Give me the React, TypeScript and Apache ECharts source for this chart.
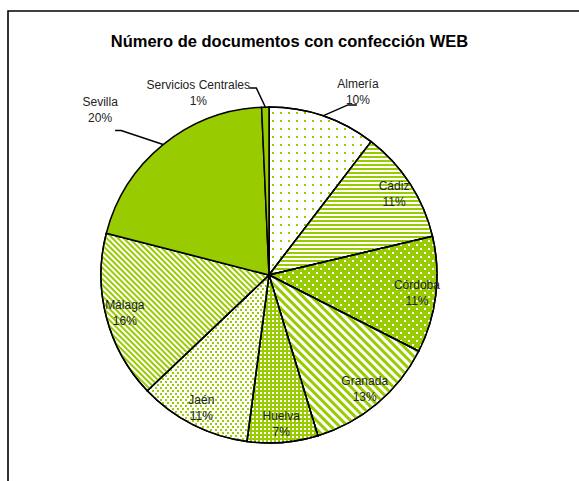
import React, { useEffect, useRef } from "react";
import * as echarts from "echarts";

const titleText = "Número de documentos con confección WEB";
const categories = ["Almería", "Cádiz", "Córdoba", "Granada", "Huelva", "Jaén", "Málaga", "Sevilla", "Servicios Centrales"];
const shares = [10.4, 10.9, 11.2, 12.8, 6.8, 10.8, 16.1, 20.3, 0.7];
const outsideLabelNames = ["Almería", "Sevilla", "Servicios Centrales"];

const GREEN = "#99CC00";

// fill styles (base colour + decal pattern) per category
const fills: Record<string, any> = {
  "Almería": { color: "#ffffff", decal: { symbol: "rect", color: GREEN, dashArrayX: [2, 6], dashArrayY: [2, 6], symbolSize: 1 } },
  "Cádiz": { color: "#ffffff", decal: { symbol: "rect", color: GREEN, dashArrayX: [1, 0], dashArrayY: [2, 2], symbolSize: 1 } },
  "Córdoba": { color: GREEN, decal: { symbol: "rect", color: "#ffffff", dashArrayX: [[1.5, 5.5], [0, 3.5, 1.5, 2]], dashArrayY: [1.5, 2], symbolSize: 1 } },
  "Granada": { color: "#ffffff", decal: { symbol: "rect", color: GREEN, dashArrayX: [1, 0], dashArrayY: [3, 3], rotation: Math.PI / 4, symbolSize: 1 } },
  "Huelva": { color: GREEN, decal: { symbol: "rect", color: "#ffffff", dashArrayX: [1.5, 1.5], dashArrayY: [1.5, 1.5], symbolSize: 1 } },
  "Jaén": { color: "#ffffff", decal: { symbol: "rect", color: GREEN, dashArrayX: [[1.5, 2.5], [0, 2, 1.5, 0.5]], dashArrayY: [1.5, 0.5], symbolSize: 1 } },
  "Málaga": { color: "#ffffff", decal: { symbol: "rect", color: GREEN, dashArrayX: [1, 0], dashArrayY: [1.5, 1.2], rotation: Math.PI / 4, symbolSize: 1 } },
  "Sevilla": { color: GREEN, decal: null },
  "Servicios Centrales": { color: GREEN, decal: null },
};

// leader-line geometry relative to the library's anchor point on the pie edge
const leader: Record<string, { mid: [number, number]; end: [number, number]; text: [number, number] }> = {
  "Almería": { mid: [25, -11], end: [34, -11], text: [35, -24] },
  "Sevilla": { mid: [-42, -14], end: [-48, -14], text: [-63, -35] },
  "Servicios Centrales": { mid: [-9, -19], end: [-16, -19], text: [-67, -14] },
};

const labelFmt = (p: any) => `${p.name}\n${Math.round(p.percent)}%`;

export default function App() {
  const ref = useRef<HTMLDivElement>(null);
  useEffect(() => {
    if (!ref.current) return;
    const chart = echarts.init(ref.current, undefined, { renderer: "svg" });
    const labelStyle = {
      color: "#222",
      fontFamily: "Liberation Sans",
      fontSize: 12,
      lineHeight: 16,
      align: "center",
    };
    const mainData = categories.map((name, i) => ({
      name,
      value: shares[i],
      itemStyle: { color: fills[name].color, decal: fills[name].decal || undefined },
      label: { show: outsideLabelNames.includes(name) },
      labelLine: { show: outsideLabelNames.includes(name) },
    }));
    const innerData = categories.map((name, i) => ({
      name,
      value: shares[i],
      label: { show: !outsideLabelNames.includes(name) },
    }));
    chart.setOption({
      animation: false,
      title: {
        text: titleText,
        left: "center",
        top: 32,
        padding: 0,
        textStyle: { fontFamily: "Liberation Sans", fontWeight: "bold", fontSize: 16.5, color: "#000" },
      },
      graphic: [
        {
          type: "rect",
          shape: { x: 8, y: 11, width: 640, height: 540 },
          style: { fill: "none", stroke: "#000", lineWidth: 1.6 },
          silent: true,
          z: 0,
        },
      ],
      series: [
        {
          type: "pie",
          center: [269, 275],
          radius: 168,
          startAngle: 90,
          clockwise: true,
          avoidLabelOverlap: false,
          percentPrecision: 2,
          itemStyle: { borderColor: "#000", borderWidth: 1.5 },
          emphasis: { disabled: true },
          label: { ...labelStyle, position: "outside", formatter: labelFmt },
          labelLine: { length: 10, length2: 10, lineStyle: { color: "#000", width: 1.5 } },
          labelLayout: (p: any) => {
            const name = categories[p.dataIndex];
            const g = leader[name];
            if (!g || !p.labelLinePoints) return {};
            const a = p.labelLinePoints[0];
            return {
              x: a[0] + g.text[0],
              y: a[1] + g.text[1],
              align: "center",
              verticalAlign: "middle",
              labelLinePoints: [
                [a[0], a[1]],
                [a[0] + g.mid[0], a[1] + g.mid[1]],
                [a[0] + g.end[0], a[1] + g.end[1]],
              ],
            };
          },
          data: mainData,
        },
        {
          type: "pie",
          center: [269, 275],
          radius: [124, 168],
          startAngle: 90,
          clockwise: true,
          silent: true,
          avoidLabelOverlap: false,
          percentPrecision: 2,
          itemStyle: { color: "rgba(0,0,0,0)", borderWidth: 0 },
          emphasis: { disabled: true },
          label: { ...labelStyle, position: "inside", formatter: labelFmt },
          labelLine: { show: false },
          data: innerData,
        },
      ],
    });
    return () => chart.dispose();
  }, []);
  return <div ref={ref} style={{ position: "absolute", left: 0, top: 0, width: 579, height: 481 }} />;
}
